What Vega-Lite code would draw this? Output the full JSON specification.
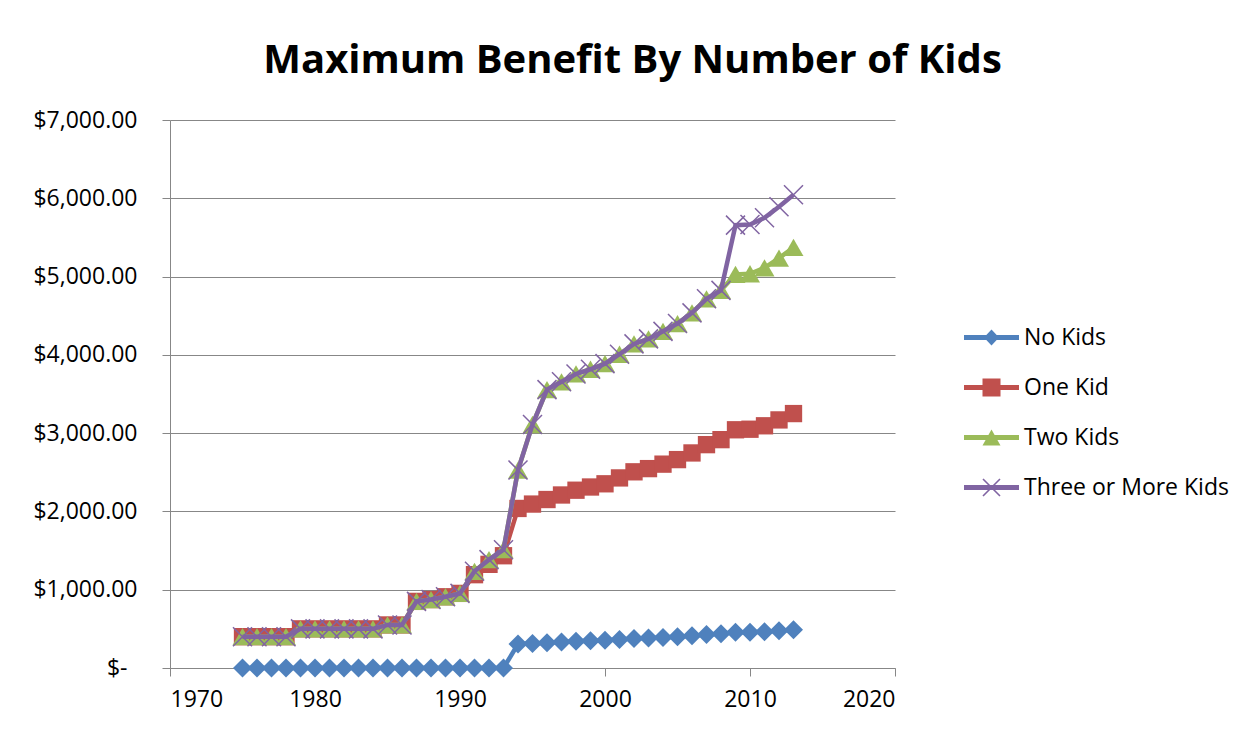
{
  "$schema": "https://vega.github.io/schema/vega-lite/v6.json",
  "width": 725,
  "height": 548,
  "autosize": {"type": "none"},
  "padding": {"left": 170, "top": 120, "right": 358, "bottom": 61},
  "background": "white",
  "config": {
    "font": "Open Sans",
    "view": {"stroke": null},
    "axis": {
      "labelFont": "Open Sans",
      "labelColor": "black",
      "domainColor": "#878787",
      "tickColor": "#878787",
      "gridColor": "#878787",
      "domainWidth": 1,
      "tickWidth": 1,
      "gridWidth": 1,
      "tickSize": 8,
      "title": null
    }
  },
  "title": {
    "text": "Maximum Benefit By Number of Kids",
    "font": "Open Sans",
    "fontSize": 40,
    "fontWeight": "bold",
    "color": "black",
    "anchor": "middle",
    "frame": "group",
    "dx": 100,
    "offset": 28
  },
  "data": {
    "values": [
      {"year": 1975, "series": "No Kids", "value": 0}, {"year": 1975, "series": "One Kid", "value": 400}, {"year": 1975, "series": "Two Kids", "value": 400}, {"year": 1975, "series": "Three or More Kids", "value": 400},
      {"year": 1976, "series": "No Kids", "value": 0}, {"year": 1976, "series": "One Kid", "value": 400}, {"year": 1976, "series": "Two Kids", "value": 400}, {"year": 1976, "series": "Three or More Kids", "value": 400},
      {"year": 1977, "series": "No Kids", "value": 0}, {"year": 1977, "series": "One Kid", "value": 400}, {"year": 1977, "series": "Two Kids", "value": 400}, {"year": 1977, "series": "Three or More Kids", "value": 400},
      {"year": 1978, "series": "No Kids", "value": 0}, {"year": 1978, "series": "One Kid", "value": 400}, {"year": 1978, "series": "Two Kids", "value": 400}, {"year": 1978, "series": "Three or More Kids", "value": 400},
      {"year": 1979, "series": "No Kids", "value": 0}, {"year": 1979, "series": "One Kid", "value": 500}, {"year": 1979, "series": "Two Kids", "value": 500}, {"year": 1979, "series": "Three or More Kids", "value": 500},
      {"year": 1980, "series": "No Kids", "value": 0}, {"year": 1980, "series": "One Kid", "value": 500}, {"year": 1980, "series": "Two Kids", "value": 500}, {"year": 1980, "series": "Three or More Kids", "value": 500},
      {"year": 1981, "series": "No Kids", "value": 0}, {"year": 1981, "series": "One Kid", "value": 500}, {"year": 1981, "series": "Two Kids", "value": 500}, {"year": 1981, "series": "Three or More Kids", "value": 500},
      {"year": 1982, "series": "No Kids", "value": 0}, {"year": 1982, "series": "One Kid", "value": 500}, {"year": 1982, "series": "Two Kids", "value": 500}, {"year": 1982, "series": "Three or More Kids", "value": 500},
      {"year": 1983, "series": "No Kids", "value": 0}, {"year": 1983, "series": "One Kid", "value": 500}, {"year": 1983, "series": "Two Kids", "value": 500}, {"year": 1983, "series": "Three or More Kids", "value": 500},
      {"year": 1984, "series": "No Kids", "value": 0}, {"year": 1984, "series": "One Kid", "value": 500}, {"year": 1984, "series": "Two Kids", "value": 500}, {"year": 1984, "series": "Three or More Kids", "value": 500},
      {"year": 1985, "series": "No Kids", "value": 0}, {"year": 1985, "series": "One Kid", "value": 550}, {"year": 1985, "series": "Two Kids", "value": 550}, {"year": 1985, "series": "Three or More Kids", "value": 550},
      {"year": 1986, "series": "No Kids", "value": 0}, {"year": 1986, "series": "One Kid", "value": 550}, {"year": 1986, "series": "Two Kids", "value": 550}, {"year": 1986, "series": "Three or More Kids", "value": 550},
      {"year": 1987, "series": "No Kids", "value": 0}, {"year": 1987, "series": "One Kid", "value": 851}, {"year": 1987, "series": "Two Kids", "value": 851}, {"year": 1987, "series": "Three or More Kids", "value": 851},
      {"year": 1988, "series": "No Kids", "value": 0}, {"year": 1988, "series": "One Kid", "value": 874}, {"year": 1988, "series": "Two Kids", "value": 874}, {"year": 1988, "series": "Three or More Kids", "value": 874},
      {"year": 1989, "series": "No Kids", "value": 0}, {"year": 1989, "series": "One Kid", "value": 910}, {"year": 1989, "series": "Two Kids", "value": 910}, {"year": 1989, "series": "Three or More Kids", "value": 910},
      {"year": 1990, "series": "No Kids", "value": 0}, {"year": 1990, "series": "One Kid", "value": 953}, {"year": 1990, "series": "Two Kids", "value": 953}, {"year": 1990, "series": "Three or More Kids", "value": 953},
      {"year": 1991, "series": "No Kids", "value": 0}, {"year": 1991, "series": "One Kid", "value": 1192}, {"year": 1991, "series": "Two Kids", "value": 1235}, {"year": 1991, "series": "Three or More Kids", "value": 1235},
      {"year": 1992, "series": "No Kids", "value": 0}, {"year": 1992, "series": "One Kid", "value": 1324}, {"year": 1992, "series": "Two Kids", "value": 1384}, {"year": 1992, "series": "Three or More Kids", "value": 1384},
      {"year": 1993, "series": "No Kids", "value": 0}, {"year": 1993, "series": "One Kid", "value": 1434}, {"year": 1993, "series": "Two Kids", "value": 1511}, {"year": 1993, "series": "Three or More Kids", "value": 1511},
      {"year": 1994, "series": "No Kids", "value": 306}, {"year": 1994, "series": "One Kid", "value": 2038}, {"year": 1994, "series": "Two Kids", "value": 2528}, {"year": 1994, "series": "Three or More Kids", "value": 2528},
      {"year": 1995, "series": "No Kids", "value": 314}, {"year": 1995, "series": "One Kid", "value": 2094}, {"year": 1995, "series": "Two Kids", "value": 3110}, {"year": 1995, "series": "Three or More Kids", "value": 3110},
      {"year": 1996, "series": "No Kids", "value": 323}, {"year": 1996, "series": "One Kid", "value": 2152}, {"year": 1996, "series": "Two Kids", "value": 3556}, {"year": 1996, "series": "Three or More Kids", "value": 3556},
      {"year": 1997, "series": "No Kids", "value": 332}, {"year": 1997, "series": "One Kid", "value": 2210}, {"year": 1997, "series": "Two Kids", "value": 3656}, {"year": 1997, "series": "Three or More Kids", "value": 3656},
      {"year": 1998, "series": "No Kids", "value": 341}, {"year": 1998, "series": "One Kid", "value": 2271}, {"year": 1998, "series": "Two Kids", "value": 3756}, {"year": 1998, "series": "Three or More Kids", "value": 3756},
      {"year": 1999, "series": "No Kids", "value": 347}, {"year": 1999, "series": "One Kid", "value": 2312}, {"year": 1999, "series": "Two Kids", "value": 3816}, {"year": 1999, "series": "Three or More Kids", "value": 3816},
      {"year": 2000, "series": "No Kids", "value": 353}, {"year": 2000, "series": "One Kid", "value": 2353}, {"year": 2000, "series": "Two Kids", "value": 3888}, {"year": 2000, "series": "Three or More Kids", "value": 3888},
      {"year": 2001, "series": "No Kids", "value": 364}, {"year": 2001, "series": "One Kid", "value": 2428}, {"year": 2001, "series": "Two Kids", "value": 4008}, {"year": 2001, "series": "Three or More Kids", "value": 4008},
      {"year": 2002, "series": "No Kids", "value": 376}, {"year": 2002, "series": "One Kid", "value": 2506}, {"year": 2002, "series": "Two Kids", "value": 4140}, {"year": 2002, "series": "Three or More Kids", "value": 4140},
      {"year": 2003, "series": "No Kids", "value": 382}, {"year": 2003, "series": "One Kid", "value": 2547}, {"year": 2003, "series": "Two Kids", "value": 4204}, {"year": 2003, "series": "Three or More Kids", "value": 4204},
      {"year": 2004, "series": "No Kids", "value": 390}, {"year": 2004, "series": "One Kid", "value": 2604}, {"year": 2004, "series": "Two Kids", "value": 4300}, {"year": 2004, "series": "Three or More Kids", "value": 4300},
      {"year": 2005, "series": "No Kids", "value": 399}, {"year": 2005, "series": "One Kid", "value": 2662}, {"year": 2005, "series": "Two Kids", "value": 4400}, {"year": 2005, "series": "Three or More Kids", "value": 4400},
      {"year": 2006, "series": "No Kids", "value": 412}, {"year": 2006, "series": "One Kid", "value": 2747}, {"year": 2006, "series": "Two Kids", "value": 4536}, {"year": 2006, "series": "Three or More Kids", "value": 4536},
      {"year": 2007, "series": "No Kids", "value": 428}, {"year": 2007, "series": "One Kid", "value": 2853}, {"year": 2007, "series": "Two Kids", "value": 4716}, {"year": 2007, "series": "Three or More Kids", "value": 4716},
      {"year": 2008, "series": "No Kids", "value": 438}, {"year": 2008, "series": "One Kid", "value": 2917}, {"year": 2008, "series": "Two Kids", "value": 4824}, {"year": 2008, "series": "Three or More Kids", "value": 4824},
      {"year": 2009, "series": "No Kids", "value": 457}, {"year": 2009, "series": "One Kid", "value": 3043}, {"year": 2009, "series": "Two Kids", "value": 5028}, {"year": 2009, "series": "Three or More Kids", "value": 5657},
      {"year": 2010, "series": "No Kids", "value": 457}, {"year": 2010, "series": "One Kid", "value": 3050}, {"year": 2010, "series": "Two Kids", "value": 5036}, {"year": 2010, "series": "Three or More Kids", "value": 5666},
      {"year": 2011, "series": "No Kids", "value": 464}, {"year": 2011, "series": "One Kid", "value": 3094}, {"year": 2011, "series": "Two Kids", "value": 5112}, {"year": 2011, "series": "Three or More Kids", "value": 5751},
      {"year": 2012, "series": "No Kids", "value": 475}, {"year": 2012, "series": "One Kid", "value": 3169}, {"year": 2012, "series": "Two Kids", "value": 5236}, {"year": 2012, "series": "Three or More Kids", "value": 5891},
      {"year": 2013, "series": "No Kids", "value": 487}, {"year": 2013, "series": "One Kid", "value": 3250}, {"year": 2013, "series": "Two Kids", "value": 5372}, {"year": 2013, "series": "Three or More Kids", "value": 6044}
    ]
  },
  "encoding": {
    "x": {
      "field": "year",
      "type": "quantitative",
      "scale": {"domain": [1970, 2020], "nice": false, "zero": false},
      "axis": {
        "values": [1970, 1980, 1990, 2000, 2010, 2020],
        "format": "d",
        "grid": false,
        "labelFontSize": 23,
        "labelPadding": 12,
        "tickSize": 8
      }
    },
    "y": {
      "field": "value",
      "type": "quantitative",
      "scale": {"domain": [0, 7000], "nice": false},
      "axis": {
        "values": [0, 1000, 2000, 3000, 4000, 5000, 6000, 7000],
        "labelExpr": "datum.value === 0 ? '$-' : format(datum.value, '$,.2f')",
        "grid": true,
        "labelFontSize": 23,
        "labelPadding": {"condition": {"test": "datum.value === 0", "value": 35}, "value": 25},
        "tickSize": 8
      }
    }
  },
  "layer": [
    {
      "transform": [{"filter": "datum.series === 'No Kids'"}],
      "mark": {"type": "line", "color": "#4F81BD", "strokeWidth": 4.5}
    },
    {
      "transform": [{"filter": "datum.series === 'No Kids'"}],
      "mark": {"type": "point", "shape": "diamond", "filled": true, "opacity": 1, "size": 361, "color": "#4F81BD"}
    },
    {
      "transform": [{"filter": "datum.series === 'One Kid'"}],
      "mark": {"type": "line", "color": "#C0504D", "strokeWidth": 4.5}
    },
    {
      "transform": [{"filter": "datum.series === 'One Kid'"}],
      "mark": {"type": "point", "shape": "square", "filled": true, "opacity": 1, "size": 300, "color": "#C0504D"}
    },
    {
      "transform": [{"filter": "datum.series === 'Two Kids'"}],
      "mark": {"type": "line", "color": "#9BBB59", "strokeWidth": 4.5}
    },
    {
      "transform": [{"filter": "datum.series === 'Two Kids'"}],
      "mark": {"type": "point", "shape": "triangle-up", "filled": true, "opacity": 1, "size": 400, "color": "#9BBB59"}
    },
    {
      "transform": [{"filter": "datum.series === 'Three or More Kids'"}],
      "mark": {"type": "line", "color": "#8064A2", "strokeWidth": 4.5}
    },
    {
      "transform": [{"filter": "datum.series === 'Three or More Kids'"}],
      "mark": {"type": "point", "shape": "M-1,-1L1,1M-1,1L1,-1", "filled": false, "opacity": 1, "size": 361, "strokeWidth": 1.5, "color": "#8064A2"}
    },
    {
      "transform": [{"filter": "datum.year < 0"}],
      "mark": {"type": "point", "filled": true, "opacity": 1},
      "encoding": {
        "color": {
          "field": "series",
          "type": "nominal",
          "scale": {
            "domain": ["No Kids", "One Kid", "Two Kids", "Three or More Kids"],
            "range": ["#4F81BD", "#C0504D", "#9BBB59", "#8064A2"]
          },
          "legend": {
            "title": null,
            "orient": "none",
            "legendX": 810,
            "legendY": 206,
            "padding": 0,
            "symbolSize": 400,
            "symbolStrokeWidth": 0,
            "labelFontSize": 23,
            "labelFont": "Open Sans",
            "labelColor": "black",
            "labelOffset": 21,
            "rowPadding": 26,
            "labelLimit": 400
          }
        },
        "shape": {
          "field": "series",
          "type": "nominal",
          "scale": {
            "domain": ["No Kids", "One Kid", "Two Kids", "Three or More Kids"],
            "range": [
              "M-2.75,-0.25L2.75,-0.25L2.75,0.25L-2.75,0.25ZM0,-0.8L0.75,0L0,0.8L-0.75,0Z",
              "M-2.75,-0.25L2.75,-0.25L2.75,0.25L-2.75,0.25ZM-0.9,-0.9L0.9,-0.9L0.9,0.9L-0.9,0.9Z",
              "M-2.75,-0.25L2.75,-0.25L2.75,0.25L-2.75,0.25ZM0,-0.8L0.9,0.8L-0.9,0.8Z",
              "M-2.75,-0.25L2.75,-0.25L2.75,0.25L-2.75,0.25ZM-0.793,-0.907L0.907,0.793L0.793,0.907L-0.907,-0.793ZM-0.907,0.793L0.793,-0.907L0.907,-0.793L-0.793,0.907Z"
            ]
          },
          "legend": {
            "title": null,
            "orient": "none",
            "legendX": 810,
            "legendY": 206,
            "padding": 0,
            "symbolSize": 400,
            "symbolStrokeWidth": 0,
            "labelFontSize": 23,
            "labelFont": "Open Sans",
            "labelColor": "black",
            "labelOffset": 21,
            "rowPadding": 26,
            "labelLimit": 400
          }
        }
      }
    }
  ]
}
